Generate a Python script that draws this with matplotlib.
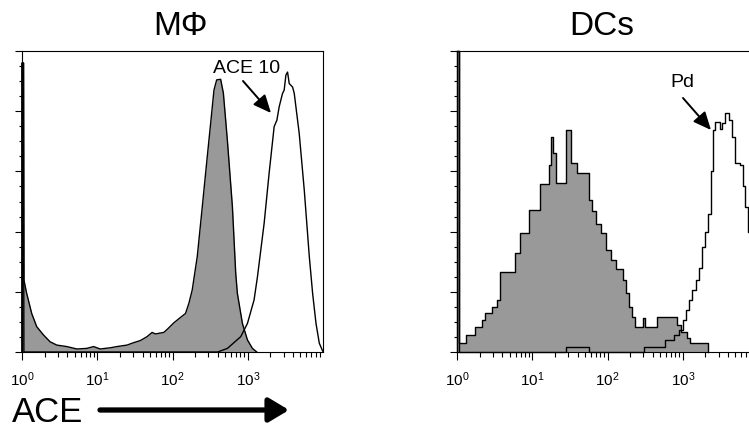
import numpy as np
import matplotlib
matplotlib.use('Agg')
import matplotlib.pyplot as plt
from matplotlib.ticker import FixedLocator, LogLocator, MultipleLocator, NullFormatter
from matplotlib.patches import FancyArrowPatch

plt.rcParams['font.family'] = ['Liberation Sans', 'DejaVu Sans']
plt.rcParams['mathtext.fontset'] = 'custom'
plt.rcParams['mathtext.rm'] = 'Liberation Sans'
plt.rcParams['mathtext.default'] = 'regular'

# MΦ panel: log10(fluorescence) positions and % of max
mf_ctrl_log = [0.0, 0.0, 0.02, 0.025, 0.062, 0.129, 0.196, 0.284, 0.373, 0.462, 0.596, 0.729,
               0.862, 0.951, 1.04, 1.173, 1.262, 1.396, 1.484, 1.573, 1.662, 1.729,
               1.773, 1.884, 1.929, 2.018, 2.107, 2.173, 2.218, 2.262, 2.329, 2.396,
               2.462, 2.507, 2.551, 2.587, 2.64, 2.676, 2.729, 2.796, 2.84, 2.862,
               2.929, 2.996, 3.062, 3.12]
mf_ctrl_val = [0, 96, 96, 24, 19.5, 12.8, 8.4, 5.7, 3.4, 2.3, 1.8, 1.0,
               1.2, 1.8, 1.0, 1.4, 1.8, 2.3, 3.1, 3.8, 5.1, 6.5,
               6.0, 6.5, 7.5, 9.7, 11.5, 12.8, 16.2, 20.6, 31.7, 48.3,
               64.9, 76, 87, 90.4, 90.6, 86, 70.4, 48.3, 26.2, 19.5,
               9.5, 4.0, 1.2, 0]
mf_ace_log = [0.0, 0.0, 0.02, 0.025, 2.6, 2.73, 2.907, 2.996, 3.084, 3.129, 3.218, 3.284,
              3.351, 3.387, 3.418, 3.462, 3.484, 3.507, 3.529, 3.551, 3.596, 3.618,
              3.684, 3.751, 3.818, 3.862, 3.907, 3.951, 3.996]
mf_ace_val = [0, 96, 96, 0, 0, 1.2, 5.1, 9.5, 17.3, 25, 42.8, 59.4,
              74.9, 77, 81.5, 85.9, 87, 92, 93, 89.2, 88, 85.9,
              72.6, 53.8, 31.7, 19.5, 9.5, 2.9, 0.3]

# DC panel: histogram bins (left edge in log10) and heights
dc_ctrl_log = [0.0, 0.025, 0.12, 0.24, 0.33, 0.375, 0.46, 0.53, 0.576, 0.776, 0.843,
               0.955, 1.10, 1.222, 1.25, 1.28, 1.31, 1.45, 1.52, 1.60, 1.75, 1.80,
               1.85, 1.92, 1.98, 2.05, 2.11, 2.2, 2.25, 2.29, 2.33, 2.37, 2.47,
               2.50, 2.66, 2.93, 2.98, 3.05, 3.09, 3.33]
dc_ctrl_val = [100, 2.9, 5.7, 8.4, 10.6, 12.8, 15.1, 17.3, 26.7, 32.8, 39.4,
               47.1, 55.9, 62, 71.5, 66, 56, 73.8, 62.7, 59.4, 50.5, 47,
               42.5, 39.4, 33.8, 30.4, 27.7, 23.9, 19.5, 15.1, 11.7, 8.4, 11.2,
               8.4, 11.5, 9.0, 6.8, 4.5, 2.9, 0]
dc_pd_log = [0.0, 0.025, 1.45, 1.76, 2.48, 2.77, 2.88, 2.95, 3.0, 3.04, 3.08, 3.12,
             3.17, 3.21, 3.26, 3.30, 3.34, 3.38, 3.40, 3.43, 3.49, 3.52, 3.56,
             3.62, 3.66, 3.70, 3.76, 3.80, 3.83, 3.87, 3.9, 3.95, 4.0]
dc_pd_val = [100, 0, 1.8, 0, 1.8, 4.0, 5.7, 7.3, 10.6, 13.9, 17.3, 20.6,
             24, 28, 34.9, 40, 46, 60, 73.8, 76.5, 74.1, 76, 79.4,
             77, 71.5, 62.7, 62.2, 55, 48.3, 40, 32.8, 20, 0]

titles = ['MΦ', 'DCs']
gray = '#999999'

fig = plt.figure(figsize=(7.49, 4.30), dpi=100)
ax1 = fig.add_axes([22 / 749, 1 - 352 / 430, 301 / 749, 301 / 430])
ax2 = fig.add_axes([457 / 749, 1 - 352 / 430, 301 / 749, 301 / 430])

x = 10 ** np.array(mf_ctrl_log)
ax1.fill_between(x, mf_ctrl_val, 0, color=gray, lw=0)
ax1.plot(x, mf_ctrl_val, color='black', lw=1.0, clip_on=False)
ax1.plot(10 ** np.array(mf_ace_log), mf_ace_val, color='black', lw=1.0, clip_on=False)

x = 10 ** np.array(dc_ctrl_log)
ax2.fill_between(x, dc_ctrl_val, 0, color=gray, lw=0, step='post')
ax2.plot(np.r_[1, x], np.r_[0, dc_ctrl_val], color='black', lw=1.0,
         drawstyle='steps-post', clip_on=False)
ax2.plot(10 ** np.array(dc_pd_log), dc_pd_val, color='black', lw=1.0,
         drawstyle='steps-post', clip_on=False)

for ax in (ax1, ax2):
    ax.set_xscale('log')
    ax.set_xlim(1, 1e4)
    ax.set_ylim(0, 100)
    ax.xaxis.set_major_locator(FixedLocator([1, 10, 100, 1000]))
    ax.xaxis.set_minor_locator(LogLocator(base=10, subs=np.arange(2, 10)))
    ax.xaxis.set_minor_formatter(NullFormatter())
    ax.yaxis.set_major_locator(MultipleLocator(20))
    ax.yaxis.set_minor_locator(MultipleLocator(5))
    ax.yaxis.set_major_formatter(NullFormatter())
    ax.tick_params(axis='x', which='major', length=6, width=0.8, labelsize=11, pad=7)
    ax.tick_params(axis='x', which='minor', length=3.3, width=0.8)
    ax.tick_params(axis='y', which='major', length=5, width=0.8)
    ax.tick_params(axis='y', which='minor', length=2.5, width=0.8)
    for s in ax.spines.values():
        s.set_linewidth(0.8)

fig.text(180 / 749, 1 - 35 / 430, titles[0], fontsize=24, ha='center', va='baseline')
fig.text(602 / 749, 1 - 35 / 430, titles[1], fontsize=24, ha='center', va='baseline')

# peak labels with arrows
arrow_style = '-|>,head_length=0.9,head_width=0.4'
fig.text(247 / 749, 1 - 73 / 430, 'ACE 10', fontsize=14, ha='center', va='baseline')
fig.add_artist(FancyArrowPatch((243 / 749, 1 - 81 / 430), (271 / 749, 1 - 113 / 430),
                               transform=fig.transFigure, arrowstyle=arrow_style,
                               mutation_scale=12, lw=1.4, color='black', shrinkA=0, shrinkB=0))
fig.text(682 / 749, 1 - 87 / 430, 'Pd', fontsize=14, ha='center', va='baseline')
fig.add_artist(FancyArrowPatch((683 / 749, 1 - 98 / 430), (711 / 749, 1 - 130 / 430),
                               transform=fig.transFigure, arrowstyle=arrow_style,
                               mutation_scale=12, lw=1.4, color='black', shrinkA=0, shrinkB=0))

# axis label
fig.text(12 / 749, 1 - 422 / 430, 'ACE', fontsize=25, ha='left', va='baseline')
fig.add_artist(FancyArrowPatch((100 / 749, 1 - 410 / 430), (289 / 749, 1 - 410 / 430),
                               transform=fig.transFigure, arrowstyle='-|>,head_length=0.55,head_width=0.33',
                               mutation_scale=22, lw=3.8, color='black', shrinkA=0, shrinkB=0))

fig.savefig('out.png', dpi=100)
